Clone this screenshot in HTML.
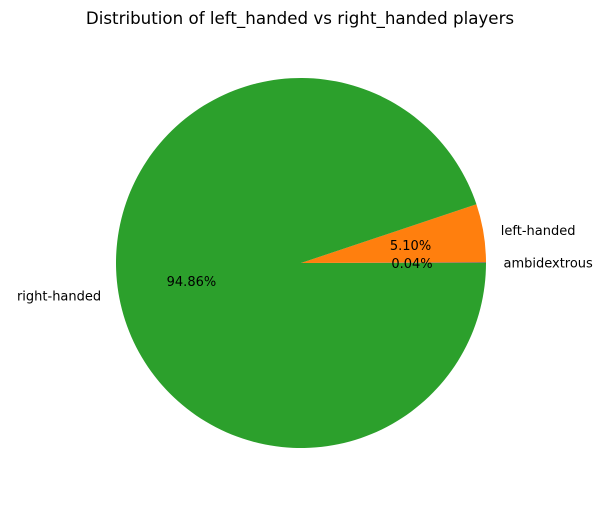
<!DOCTYPE html>
<html><head><meta charset="utf-8"><style>
body{margin:0;background:#fff;}
svg text{font-family:"DejaVu Sans","Liberation Sans",sans-serif;}
</style></head><body>
<svg id="chart" width="609" height="504" viewBox="0 0 609 504">
<text x="300" y="24" font-size="16.7" text-anchor="middle">Distribution of left_handed vs right_handed players</text>
<g id="slices"></g>
<g id="labels"></g>
</svg>
<script>
const categories = ["ambidextrous", "left-handed", "right-handed"];
const values = [0.04, 5.10, 94.86];
const pctLabels = ["0.04%", "5.10%", "94.86%"];
const colors = ["#1f77b4", "#ff7f0e", "#2ca02c"];
const cx = 301, cy = 263, r = 185;
const g = document.getElementById('slices');
const lg = document.getElementById('labels');
const NS = "http://www.w3.org/2000/svg";
const total = values.reduce((a,b)=>a+b,0);
let start = 0;
values.forEach((v,i)=>{
  const frac = v/total, a0 = start*2*Math.PI, a1 = (start+frac)*2*Math.PI;
  const x0 = cx + r*Math.cos(a0), y0 = cy - r*Math.sin(a0);
  const x1 = cx + r*Math.cos(a1), y1 = cy - r*Math.sin(a1);
  const p = document.createElementNS(NS,'path');
  p.setAttribute('d',`M${cx},${cy} L${x0},${y0} A${r},${r} 0 ${frac>0.5?1:0} 0 ${x1},${y1} Z`);
  p.setAttribute('fill',colors[i]);
  
  
  g.appendChild(p);
  const mid = (a0+a1)/2, c = Math.cos(mid), s = Math.sin(mid);
  const t = document.createElementNS(NS,'text');
  t.setAttribute('x', cx + 1.1*r*c - (c>=0?1:-1)*1);
  t.setAttribute('y', cy - 1.1*r*s + 5);
  t.setAttribute('font-size','13');
  t.setAttribute('text-anchor', c>=0?'start':'end');
  t.textContent = categories[i];
  
  
  lg.appendChild(t);
  const q = document.createElementNS(NS,'text');
  q.setAttribute('x', cx + 0.6*r*c);
  q.setAttribute('y', cy - 0.6*r*s + 5);
  q.setAttribute('font-size','13');
  q.setAttribute('text-anchor','middle');
  q.textContent = pctLabels[i];
  
  
  lg.appendChild(q);
  start += frac;
});
</script>
</body></html>
